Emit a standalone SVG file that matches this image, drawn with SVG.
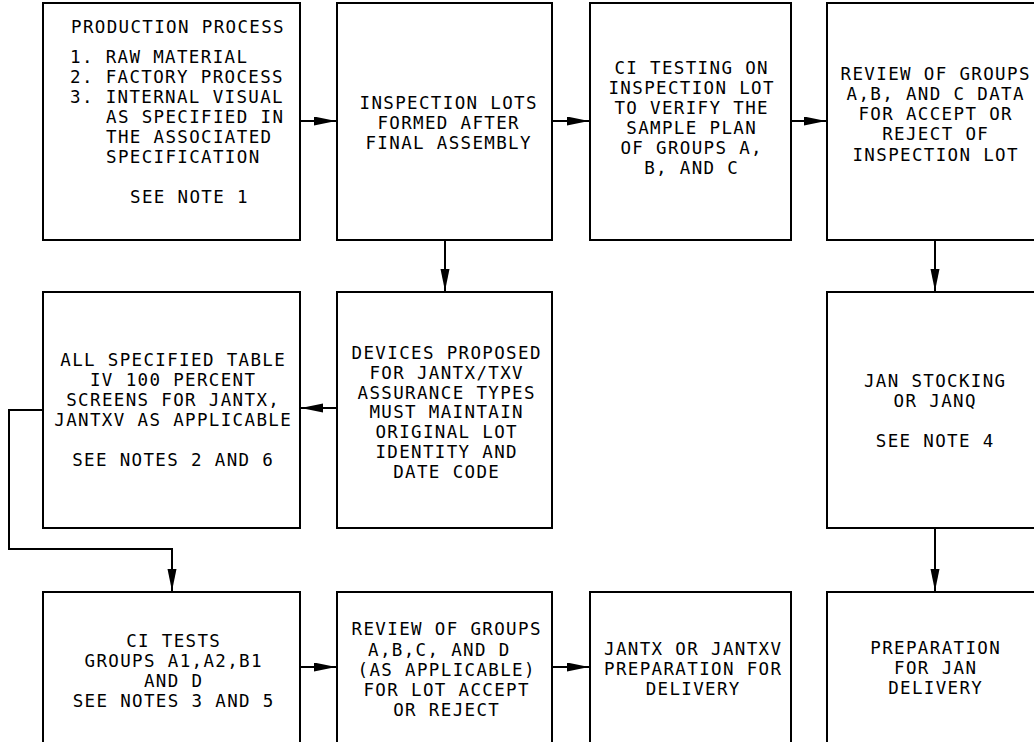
<svg xmlns="http://www.w3.org/2000/svg" width="1034" height="742" viewBox="0 0 1034 742">
<style>
.box{fill:#fff;stroke:#000;stroke-width:2}
.t{font-family:"DejaVu Sans Mono","Liberation Mono",monospace;font-size:17.5px;letter-spacing:1.35px;fill:#000}
.m{text-anchor:middle}
.c{fill:none;stroke:#000;stroke-width:2}
</style>
<defs>
<marker id="ah" markerUnits="userSpaceOnUse" markerWidth="24" markerHeight="10" refX="22" refY="4.5" orient="auto">
<path d="M0,0 L22,4.5 L0,9 Z" fill="#000"/>
</marker>
</defs>
<rect width="1034" height="742" fill="#fff"/>
<g id="connectors">
<path class="c" d="M300,121 H336" marker-end="url(#ah)"/>
<path class="c" d="M552,121 H589" marker-end="url(#ah)"/>
<path class="c" d="M791,121 H826" marker-end="url(#ah)"/>
<path class="c" d="M445,240 V291" marker-end="url(#ah)"/>
<path class="c" d="M337,408 H301" marker-end="url(#ah)"/>
<path class="c" d="M43,410 H9 V549 H172 V591" marker-end="url(#ah)"/>
<path class="c" d="M935,240 V291" marker-end="url(#ah)"/>
<path class="c" d="M935,528 V591" marker-end="url(#ah)"/>
<path class="c" d="M300,667 H336" marker-end="url(#ah)"/>
<path class="c" d="M552,667 H589" marker-end="url(#ah)"/>
</g>
<g id="n1">
<rect class="box" x="43" y="3" width="257" height="237"/>
<text class="t" x="71" y="33">PRODUCTION PROCESS</text>
<text class="t" x="70" y="63">1. RAW MATERIAL</text>
<text class="t" x="70" y="83">2. FACTORY PROCESS</text>
<text class="t" x="70" y="103">3. INTERNAL VISUAL</text>
<text class="t" x="106" y="123">AS SPECIFIED IN</text>
<text class="t" x="106" y="143">THE ASSOCIATED</text>
<text class="t" x="106" y="163">SPECIFICATION</text>
<text class="t" x="130" y="203">SEE NOTE 1</text>
</g>
<g id="n2">
<rect class="box" x="337" y="3" width="215" height="237"/>
<text class="t m" x="448.7" y="109">INSPECTION LOTS</text>
<text class="t m" x="448.7" y="129">FORMED AFTER</text>
<text class="t m" x="448.7" y="149">FINAL ASSEMBLY</text>
</g>
<g id="n3">
<rect class="box" x="590" y="3" width="201" height="237"/>
<text class="t m" x="691.7" y="74">CI TESTING ON</text>
<text class="t m" x="691.7" y="94">INSPECTION LOT</text>
<text class="t m" x="691.7" y="114">TO VERIFY THE</text>
<text class="t m" x="691.7" y="134">SAMPLE PLAN</text>
<text class="t m" x="691.7" y="154">OF GROUPS A,</text>
<text class="t m" x="691.7" y="174">B, AND C</text>
</g>
<g id="n4">
<rect class="box" x="827" y="3" width="216" height="237"/>
<text class="t m" x="935.7" y="80">REVIEW OF GROUPS</text>
<text class="t m" x="935.7" y="100">A,B, AND C DATA</text>
<text class="t m" x="935.7" y="120">FOR ACCEPT OR</text>
<text class="t m" x="935.7" y="140">REJECT OF</text>
<text class="t m" x="935.7" y="160.5">INSPECTION LOT</text>
</g>
<g id="n5">
<rect class="box" x="43" y="292" width="257" height="236"/>
<text class="t m" x="173.2" y="366">ALL SPECIFIED TABLE</text>
<text class="t m" x="173.2" y="386">IV 100 PERCENT</text>
<text class="t m" x="173.2" y="405.5">SCREENS FOR JANTX,</text>
<text class="t m" x="173.2" y="426">JANTXV AS APPLICABLE</text>
<text class="t m" x="173.2" y="466">SEE NOTES 2 AND 6</text>
</g>
<g id="n6">
<rect class="box" x="337" y="292" width="215" height="236"/>
<text class="t m" x="446.7" y="358.5">DEVICES PROPOSED</text>
<text class="t m" x="446.7" y="378.5">FOR JANTX/TXV</text>
<text class="t m" x="446.7" y="398.5">ASSURANCE TYPES</text>
<text class="t m" x="446.7" y="418">MUST MAINTAIN</text>
<text class="t m" x="446.7" y="438">ORIGINAL LOT</text>
<text class="t m" x="446.7" y="458">IDENTITY AND</text>
<text class="t m" x="446.7" y="478">DATE CODE</text>
</g>
<g id="n7">
<rect class="box" x="827" y="292" width="216" height="236"/>
<text class="t m" x="935.2" y="387">JAN STOCKING</text>
<text class="t m" x="935.2" y="407">OR JANQ</text>
<text class="t m" x="935.2" y="447">SEE NOTE 4</text>
</g>
<g id="n8">
<rect class="box" x="43" y="592" width="257" height="155"/>
<text class="t m" x="173.7" y="647">CI TESTS</text>
<text class="t m" x="173.7" y="667">GROUPS A1,A2,B1</text>
<text class="t m" x="173.7" y="687">AND D</text>
<text class="t m" x="173.7" y="707">SEE NOTES 3 AND 5</text>
</g>
<g id="n9">
<rect class="box" x="337" y="592" width="215" height="155"/>
<text class="t m" x="446.7" y="635">REVIEW OF GROUPS</text>
<text class="t" x="368" y="656">A,B,C, AND D</text>
<text class="t m" x="446.7" y="676">(AS APPLICABLE)</text>
<text class="t m" x="446.7" y="695.5">FOR LOT ACCEPT</text>
<text class="t m" x="446.7" y="715.5">OR REJECT</text>
</g>
<g id="n10">
<rect class="box" x="590" y="592" width="201" height="155"/>
<text class="t m" x="693.2" y="655">JANTX OR JANTXV</text>
<text class="t m" x="693.2" y="675">PREPARATION FOR</text>
<text class="t m" x="693.2" y="695">DELIVERY</text>
</g>
<g id="n11">
<rect class="box" x="827" y="592" width="216" height="155"/>
<text class="t m" x="935.7" y="653.5">PREPARATION</text>
<text class="t m" x="935.7" y="673.5">FOR JAN</text>
<text class="t m" x="935.7" y="693.5">DELIVERY</text>
</g>
</svg>
